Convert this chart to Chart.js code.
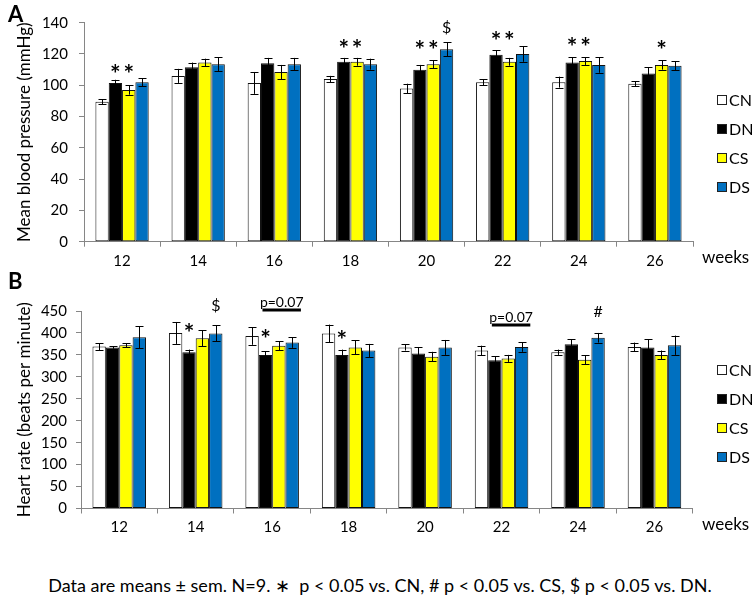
<!DOCTYPE html>
<html>
<head>
<meta charset="utf-8">
<script src="https://cdn.jsdelivr.net/npm/chart.js@4.4.1/dist/chart.umd.min.js"></script>
<style>
  body { margin: 0; background: #fff; font-family: Lato, "Open Sans", sans-serif; }
  #page { position: relative; width: 754px; height: 604px; overflow: hidden; }
  canvas { position: absolute; left: 0; }
  #chartA { top: 0; }
  #chartB { top: 280px; }
  .panelLbl { position: absolute; left: 8px; font-weight: bold; font-size: 22px; line-height: 22px; }
  #note { position: absolute; left: 0; width: 760px; top: 574px; text-align: center; font-size: 18px; line-height: 22px; }
</style>
</head>
<body>
<div id="page">
  <canvas id="chartA" width="754" height="280"></canvas>
  <canvas id="chartB" width="754" height="270"></canvas>
  <div class="panelLbl" style="top:3px">A</div>
  <div class="panelLbl" style="top:270px">B</div>
  <div id="note">Data are means ± sem. N=9. ∗&nbsp; p &lt; 0.05 vs. CN, # p &lt; 0.05 vs. CS, $ p &lt; 0.05 vs. DN.</div>
</div>

<script>
// ---- data ----
const weeks = ['12', '14', '16', '18', '20', '22', '24', '26'];
const groups = ['CN', 'DN', 'CS', 'DS'];
const groupColors = ['#ffffff', '#000000', '#ffff00', '#0070c0'];

// A: mean blood pressure (mmHg)
const bpCN = [89.5, 106, 101.5, 104, 98, 102, 102, 101];
const bpDN = [101.5, 111.5, 114, 115, 110, 119.5, 114.5, 107.5];
const bpCS = [97, 114.5, 108.5, 115, 113.5, 115, 115.5, 113];
const bpDS = [102, 113.5, 113.5, 113.5, 123, 120, 113, 112.5];
const bpCNerr = [1.5, 4.5, 7, 2, 3, 2, 3.5, 1.5];
const bpDNerr = [2, 3, 3.5, 2.5, 3, 3, 3.5, 4];
const bpCSerr = [3, 2.5, 4.5, 2.5, 2.5, 2.5, 2.5, 3];
const bpDSerr = [2.5, 4.5, 4, 3.5, 4.5, 5, 5, 3];

// B: heart rate (beats per minute)
const hrCN = [369, 400, 393, 399, 367, 360, 356, 368];
const hrDN = [367, 356, 350, 350, 353, 338, 374, 367];
const hrCS = [372, 388, 371, 367, 346, 342, 339, 350];
const hrDS = [390, 399, 378, 360, 367, 368, 389, 372];
const hrCNerr = [8, 25, 20, 20, 7, 11, 6, 10];
const hrDNerr = [3, 6, 8, 12, 15, 9, 12, 19];
const hrCSerr = [5, 18, 10, 16, 11, 8, 10, 10];
const hrDSerr = [25, 18, 12, 15, 17, 11, 11, 22];

// significance marks: [week index, group index, text, height in axis units]
const bpMarks = [[0, 1, '*', 110.5], [0, 2, '*', 110.5], [3, 1, '*', 127], [3, 2, '*', 127],
  [4, 1, '*', 126], [4, 2, '*', 126], [4, 3, '$', 137], [5, 1, '*', 131.5], [5, 2, '*', 131.5],
  [6, 1, '*', 128], [6, 2, '*', 128], [7, 2, '*', 126]];
const hrMarks = [[1, 1, '*', 413], [1, 3, '$', 462], [2, 1, '*', 398], [3, 1, '*', 396], [6, 3, '#', 450]];
// trend bars spanning DN..DS: [week index, text, height in axis units]
const hrTrends = [[2, 'p=0.07', 452], [5, 'p=0.07', 418]];

const axisGrey = '#868686';
const FONT = 'Lato, "Open Sans", sans-serif';

// error bars, stars, legend and the "weeks" label
const extrasPlugin = {
  id: 'extras',
  afterDatasetsDraw(chart, args, opts) {
    const ctx = chart.ctx;
    const yScale = chart.scales.y;
    ctx.save();
    ctx.strokeStyle = '#000';
    ctx.lineWidth = 1;
    chart.data.datasets.forEach((ds, i) => {
      const meta = chart.getDatasetMeta(i);
      meta.data.forEach((bar, j) => {
        const v = ds.data[j], e = opts.errors[i][j];
        const x = Math.round(bar.x) + 0.5;
        const yT = yScale.getPixelForValue(v + e);
        const yB = yScale.getPixelForValue(v - e);
        ctx.beginPath();
        ctx.moveTo(x, yT); ctx.lineTo(x, yB);
        ctx.moveTo(x - 4, Math.round(yT) + 0.5); ctx.lineTo(x + 4, Math.round(yT) + 0.5);
        ctx.moveTo(x - 4, Math.round(yB) + 0.5); ctx.lineTo(x + 4, Math.round(yB) + 0.5);
        ctx.stroke();
      });
    });

    ctx.fillStyle = '#000';
    ctx.textAlign = 'center';
    opts.marks.forEach(([w, g, txt, val]) => {
      const bar = chart.getDatasetMeta(g).data[w];
      ctx.font = (txt === '*' ? 'bold 25px ' : '16px ') + FONT;
      const m = ctx.measureText(txt);
      const y = yScale.getPixelForValue(val) + (m.actualBoundingBoxAscent - m.actualBoundingBoxDescent) / 2;
      ctx.textBaseline = 'alphabetic';
      ctx.fillText(txt, bar.x, y);
    });

    (opts.trends || []).forEach(([w, txt, val]) => {
      const dn = chart.getDatasetMeta(1).data[w];
      const dsb = chart.getDatasetMeta(3).data[w];
      const x0 = dn.x - 3, x1 = dsb.x + dsb.width / 2 + 2;
      const y = yScale.getPixelForValue(val);
      ctx.lineWidth = 3;
      ctx.beginPath(); ctx.moveTo(x0, y); ctx.lineTo(x1, y); ctx.stroke();
      ctx.font = '14px ' + FONT;
      ctx.textBaseline = 'middle';
      ctx.fillText(txt, (x0 + x1) / 2, y - 8);
    });
    ctx.restore();
  },
  afterDraw(chart, args, opts) {
    const ctx = chart.ctx;
    const area = chart.chartArea;
    ctx.save();
    ctx.font = '16px ' + FONT;
    ctx.textBaseline = 'middle';
    ctx.textAlign = 'left';
    groups.forEach((name, i) => {
      const y = opts.legendTop + i * 29;
      ctx.fillStyle = groupColors[i];
      ctx.fillRect(717, Math.round(y - 5), 10, 10);
      ctx.strokeStyle = '#222';
      ctx.lineWidth = 1;
      ctx.strokeRect(717.5, Math.round(y - 5) + 0.5, 9, 9);
      ctx.fillStyle = '#000';
      ctx.fillText(name, 729, y + 1);
    });
    ctx.font = '17px ' + FONT;
    ctx.fillText('weeks', 702, area.bottom + 16);
    ctx.restore();
  }
};

function makePanel(id, series, errors, cfg) {
  new Chart(document.getElementById(id), {
    type: 'bar',
    data: {
      labels: weeks,
      datasets: groups.map((g, i) => ({
        label: g,
        data: series[i],
        backgroundColor: groupColors[i],
        borderColor: '#111',
        borderWidth: 1,
        borderSkipped: false,
        categoryPercentage: 0.7,
        barPercentage: 1
      }))
    },
    options: {
      responsive: false,
      animation: false,
      layout: { padding: { top: cfg.top, right: cfg.right, left: 0, bottom: 0 } },
      plugins: {
        legend: { display: false },
        tooltip: { enabled: false },
        extras: { errors: errors, marks: cfg.marks, trends: cfg.trends, legendTop: cfg.legendTop }
      },
      scales: {
        x: {
          ticks: { color: '#000', font: { family: FONT, size: 15 }, padding: 5 },
          border: { color: axisGrey },
          grid: { drawOnChartArea: false, drawTicks: true, tickLength: 5, color: axisGrey, offset: true },
          afterFit: (s) => { s.height = cfg.xHeight; }
        },
        y: {
          min: 0,
          max: cfg.max,
          ticks: { stepSize: cfg.step, color: '#000', font: { family: FONT, size: 15 }, padding: cfg.tickPad },
          border: { color: axisGrey },
          grid: { drawOnChartArea: false, drawTicks: true, tickLength: 5, color: axisGrey },
          title: { display: true, text: cfg.title, color: '#000', font: { family: FONT, size: 17 }, padding: { top: 14, bottom: 0 } },
          afterFit: (s) => { s.width = cfg.yWidth; }
        }
      }
    },
    plugins: [extrasPlugin]
  });
}

makePanel('chartA', [bpCN, bpDN, bpCS, bpDS], [bpCNerr, bpDNerr, bpCSerr, bpDSerr], {
  top: 22.7, right: 61, xHeight: 38.3, yWidth: 84, max: 140, step: 20, tickPad: 11,
  title: 'Mean blood pressure (mmHg)', marks: bpMarks, trends: [], legendTop: 100
});

makePanel('chartB', [hrCN, hrDN, hrCS, hrDS], [hrCNerr, hrDNerr, hrCSerr, hrDSerr], {
  top: 31, right: 61.3, xHeight: 41.5, yWidth: 81, max: 450, step: 50, tickPad: 9,
  title: 'Heart rate (beats per minute)', marks: hrMarks, trends: hrTrends, legendTop: 90
});
</script>
</body>
</html>
